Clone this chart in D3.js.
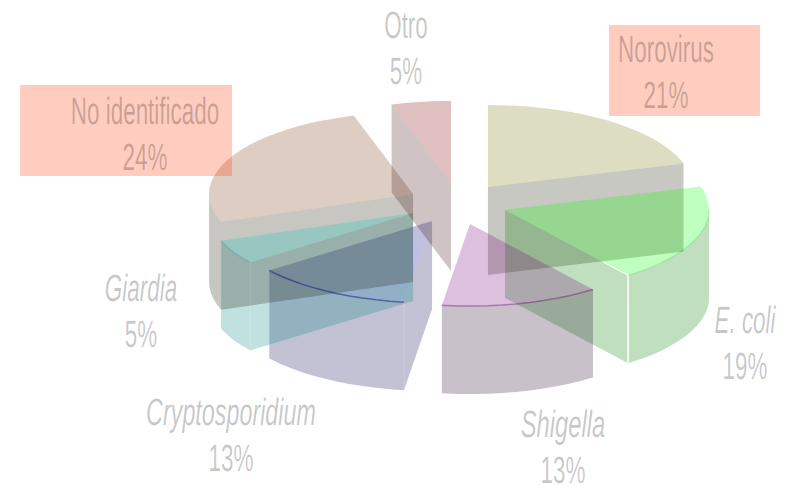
<!DOCTYPE html>
<html>
<head>
<meta charset="utf-8">
<script src="https://cdnjs.cloudflare.com/ajax/libs/d3/7.8.5/d3.min.js"></script>
<style>
  html, body { margin: 0; background: #fff; }
  svg { display: block; }
  text { font-family: "Liberation Sans", Arial, sans-serif; text-rendering: geometricPrecision; }
</style>
</head>
<body>
<svg id="chart" width="789" height="485"></svg>
<script>
// slice names, printed percentages, and the shares as the picture really draws them
const names = ["Norovirus", "E. coli", "Shigella", "Cryptosporidium", "Giardia", "No identificado", "Otro"];
const printed = [21, 19, 13, 13, 5, 24, 5];
const shares = [20.4, 19.3, 12.5, 12.5, 4.8, 25.8, 4.7];

// how far each slice is pulled out of the pie, in pie radii
const pulledX = [0.186, 0.27, 0.098, -0.088, -0.181, -0.181, 0.005];
const pulledY = [-0.22, 0.06, 0.232, 0.195, 0.098, -0.134, -0.268];

const topColors = ["rgb(120,120,10)", "rgb(0,255,0)", "rgb(120,0,125)", "rgb(0,0,128)", "rgb(0,255,255)", "rgb(124,56,12)", "rgb(128,0,0)"];
const wallColors = ["rgb(36,36,12)", "rgb(0,128,0)", "rgb(40,8,44)", "rgb(12,12,84)", "rgb(8,132,132)", "rgb(36,28,8)", "rgb(64,16,16)"];
const rimColors = ["none", "rgb(0,200,0)", "rgb(110,0,115)", "rgb(0,0,128)", "rgb(0,150,150)", "none", "none"];
const rimOpacity = [0, 0.15, 0.4, 0.45, 0.2, 0, 0];
const seamOpacity = [0, 1, 0, 0.12, 0.12, 0, 0];

const italicNames = ["Giardia", "Cryptosporidium", "Shigella", "E. coli"];
const nameStretch = [1, 1, 1.06, 1.04, 1, 1, 1];
const labelX = [666, 745, 563, 231, 141, 145, 406];
const labelY = [62, 333, 437, 425, 301, 124, 38];
const lineGap = 46;
const boxes = [
  {name: "Norovirus", x: 609, y: 25, w: 151, h: 91},
  {name: "No identificado", x: 20, y: 85, w: 212, h: 91}
];

const depth = 88;
const squeeze = 0.59;

const x = d3.scaleLinear().domain([-1, 1]).range([450 - 204, 450 + 204]);
const y = d3.scaleLinear().domain([-1, 1]).range([205 - 82, 205 + 82]);

const slices = d3.pie().sort(null).value(d => d)(shares);
const line = d3.line();

// a point on the rim of slice i, at angle a (clockwise from 12 o'clock)
const rim = (i, a) => [x(pulledX[i] + Math.sin(a)), y(pulledY[i] - Math.cos(a))];
const apex = i => [x(pulledX[i]), y(pulledY[i])];
const down = p => [p[0], p[1] + depth];

const arcPoints = (i, a0, a1) => {
  let step = Math.PI / 45;
  let pts = d3.range(a0, a1, step).map(a => rim(i, a));
  pts.push(rim(i, a1));
  return pts;
};

const svg = d3.select("#chart");

const drawFace = (pts, color) => {
  svg.append("path")
    .attr("d", line(pts) + "Z")
    .attr("fill", color)
    .attr("fill-opacity", 0.25);
};

slices.forEach((s, i) => {
  let a0 = s.startAngle, a1 = s.endAngle;

  // cut faces turned to the viewer
  if (Math.sin(a1) > 0) {
    let p = rim(i, a1);
    drawFace([apex(i), p, down(p), down(apex(i))], wallColors[i]);
  }
  if (Math.sin(a0) < 0) {
    let p = rim(i, a0);
    drawFace([apex(i), p, down(p), down(apex(i))], wallColors[i]);
  }

  // outer wall, only the front half of the pie
  let f0 = Math.max(a0, Math.PI / 2), f1 = Math.min(a1, Math.PI * 1.5);
  if (f1 > f0) {
    let front = arcPoints(i, f0, f1);
    drawFace(front.concat(front.map(down).reverse()), wallColors[i]);
  }

  // top of the slice
  drawFace([apex(i)].concat(arcPoints(i, a0, a1)), topColors[i]);
});

// darker line along the front edge of each top
slices.forEach((s, i) => {
  let f0 = Math.max(s.startAngle, Math.PI / 2), f1 = Math.min(s.endAngle, Math.PI * 1.5);
  if (f1 > f0 && rimColors[i] != "none") {
    svg.append("path")
      .attr("d", line(arcPoints(i, f0, f1)))
      .attr("fill", "none")
      .attr("stroke", rimColors[i])
      .attr("stroke-opacity", rimOpacity[i])
      .attr("stroke-width", 1.5);
  }
});

// light seams where a cut face meets the outer wall
slices.forEach((s, i) => {
  if (!seamOpacity[i]) return;
  let a = Math.sin(s.endAngle) > 0 ? s.endAngle : s.startAngle;
  let p = rim(i, a);
  svg.append("path")
    .attr("d", line([p, down(p)]))
    .attr("fill", "none")
    .attr("stroke", "#fff")
    .attr("stroke-opacity", seamOpacity[i])
    .attr("stroke-width", 1.5);
  if (seamOpacity[i] == 1) {
    let c = apex(i);
    svg.append("path")
      .attr("d", line([[c[0] + (p[0] - c[0]) * 0.8, c[1] + (p[1] - c[1]) * 0.8], p]))
      .attr("fill", "none")
      .attr("stroke", "#fff")
      .attr("stroke-width", 1.2);
  }
});

svg.selectAll("rect.box")
  .data(boxes).enter().append("rect")
    .attr("class", "box")
    .attr("x", d => d.x)
    .attr("y", d => d.y)
    .attr("width", d => d.w)
    .attr("height", d => d.h)
    .attr("fill", "rgb(255,51,0)")
    .attr("fill-opacity", 0.25);

const labels = svg.selectAll("g.label")
  .data(names).enter().append("g")
    .attr("class", "label")
    .attr("transform", (d, i) => `translate(${labelX[i]},${labelY[i]}) scale(${squeeze},1)`)
    .attr("text-anchor", "middle")
    .attr("font-size", 38)
    .attr("fill", "#000")
    .attr("fill-opacity", 0.22);

labels.append("text")
  .attr("font-style", d => italicNames.includes(d) ? "italic" : "normal")
  .attr("transform", (d, i) => `scale(${nameStretch[i]},1)`)
  .text(d => d);

labels.append("text")
  .attr("y", lineGap)
  .text((d, i) => printed[i] + "%");
</script>
</body>
</html>
